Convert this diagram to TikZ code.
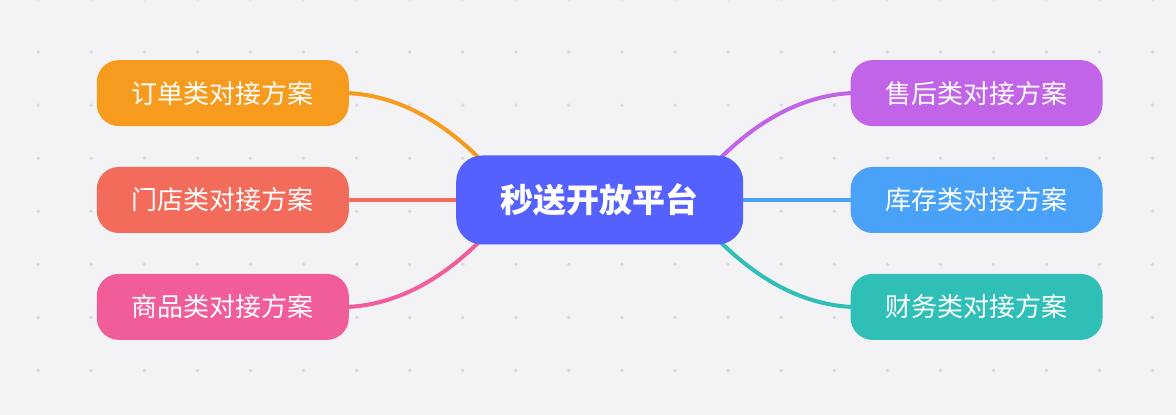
\documentclass[tikz,border=0pt]{standalone}
\usepackage{fontspec}
\newfontfamily\cjk{Noto Sans CJK SC}
\usetikzlibrary{positioning,calc,backgrounds}

\definecolor{canvas}{HTML}{F3F3F5}
\definecolor{griddot}{HTML}{D8D8DD}
\definecolor{hubblue}{HTML}{5561FF}
\definecolor{orderorange}{HTML}{F69B1D}
\definecolor{storered}{HTML}{F26B5B}
\definecolor{goodspink}{HTML}{F15D9A}
\definecolor{servpurple}{HTML}{C164E8}
\definecolor{stockblue}{HTML}{4AA2F8}
\definecolor{financeteal}{HTML}{2FBFB7}

\begin{document}
\begin{tikzpicture}[x=1pt, y=1pt, node distance = 29pt and 107pt,
  nodes = {text=white, inner sep=0pt},
  topic/.style = {fill=hubblue, rounded corners=26pt,
    minimum width=287pt, minimum height=89pt,
    font=\cjk\bfseries\fontsize{33}{38}\selectfont},
  branch/.style = {rounded corners=22pt,
    minimum width=252pt, minimum height=66pt,
    font=\cjk\fontsize{26}{30}\selectfont},
  link/.style = {line width=4pt, line cap=round}
  ]
  \useasboundingbox (0,0) rectangle (1176,415);
  \begin{scope}[on background layer]
    \fill[canvas] (0,0) rectangle (1176,415);
    \foreach \i in {0,...,21}
      \foreach \j in {0,...,7}
        \fill[griddot] (38.2+53.07*\i, 416-53.07*\j) circle (1.9);
  \end{scope}

  \node (hub) [topic] at (599.7,215) {秒送开放平台};
  % left side
  \node (order) [branch, fill=orderorange, above left=of hub] {订单类对接方案};
  \node (store) [branch, fill=storered, left=of hub] {门店类对接方案};
  \node (goods) [branch, fill=goodspink, below left=of hub] {商品类对接方案};
  % right side
  \node (service) [branch, fill=servpurple, above right=of hub] {售后类对接方案};
  \node (stock) [branch, fill=stockblue, right=of hub] {库存类对接方案};
  \node (finance) [branch, fill=financeteal, below right=of hub] {财务类对接方案};

  \begin{scope}[on background layer]
    \draw[link, orderorange] (order.east) .. controls +(66,-4) and +(-35,40) .. ($(hub.center)+(-100,20)$);
    \draw[link, storered] (store.east) -- (hub);
    \draw[link, goodspink] (goods.east) .. controls +(66,4) and +(-35,-40) .. ($(hub.center)+(-100,-20)$);
    \draw[link, servpurple] (service.west) .. controls +(-66,-4) and +(35,40) .. ($(hub.center)+(100,20)$);
    \draw[link, stockblue] (stock.west) -- (hub);
    \draw[link, financeteal] (finance.west) .. controls +(-66,4) and +(35,-40) .. ($(hub.center)+(100,-20)$);
  \end{scope}
\end{tikzpicture}
\end{document}
